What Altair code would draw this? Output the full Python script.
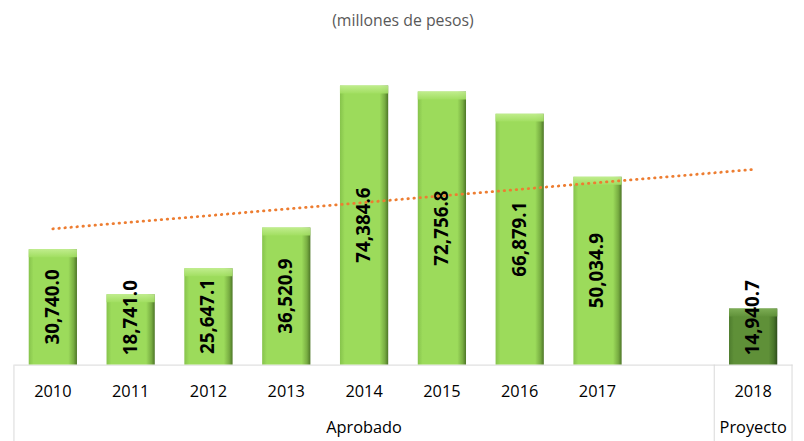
import altair as alt
import pandas as pd

# ---- data ----
anios = ["2010", "2011", "2012", "2013", "2014", "2015", "2016", "2017", "2018"]
valores = [30740.0, 18741.0, 25647.1, 36520.9, 74384.6, 72756.8, 66879.1, 50034.9, 14940.7]
grupos = ["Aprobado"] * 8 + ["Proyecto"]
orden_grupos = ["Aprobado", "Proyecto"]
titulo = "(millones de pesos)"

# an empty slot separates the two groups on the category axis
ESPACIO = " "
dominio = anios[:8] + [ESPACIO] + anios[8:]

df = pd.DataFrame({"anio": anios, "valor": valores, "grupo": grupos})
df["idx"] = [dominio.index(a) for a in anios]

# group spans in category-index units (for the table-like axis)
inicios = {g: df.loc[df.grupo == g, "idx"].min() - 0.5 for g in orden_grupos}
fines = {}
for i, g in enumerate(orden_grupos):
    if i + 1 < len(orden_grupos):
        fines[g] = inicios[orden_grupos[i + 1]]
    else:
        fines[g] = df.loc[df.grupo == g, "idx"].max() + 0.5
df_g = pd.DataFrame({
    "grupo": orden_grupos,
    "centro": [(inicios[g] + fines[g]) / 2 for g in orden_grupos],
})
limites = sorted(set(list(inicios.values()) + list(fines.values())))
df_lim = pd.DataFrame({"lim": limites})

W, H = 786, 326
FONT = "Open Sans"

xscale = alt.Scale(domain=dominio, paddingInner=0.38, paddingOuter=0.19)
x_axis = alt.X(
    "anio:N", scale=xscale, sort=dominio,
    axis=alt.Axis(title=None, labelAngle=0, ticks=False, tickSize=0, labelPadding=27,
                  labelBaseline="middle", labelFont=FONT, labelFontSize=16.5,
                  labelColor="#000000", domainColor="#d9d9d9", domainWidth=1,
                  grid=False),
)
x_noaxis = alt.X("anio:N", scale=xscale, sort=dominio, axis=None)
xlin = alt.Scale(domain=[min(limites), max(limites)], nice=False, zero=False)
yscale = alt.Scale(domain=[0, 86000], nice=False)

base = alt.Chart(df)


def hgrad(c_izq, c_med, c_der, c_borde):
    return alt.LinearGradient(
        gradient="linear", x1=0, x2=1, y1=0, y2=0,
        stops=[
            alt.GradientStop(color=c_izq, offset=0),
            alt.GradientStop(color=c_med, offset=0.1),
            alt.GradientStop(color=c_med, offset=0.82),
            alt.GradientStop(color=c_der, offset=0.93),
            alt.GradientStop(color=c_borde, offset=1),
        ],
    )


def bgrad(c_izq, c_top, c_bot, c_der):
    return alt.LinearGradient(
        gradient="linear", x1=0, x2=0, y1=0, y2=1,
        stops=[alt.GradientStop(color=c_top, offset=0),
               alt.GradientStop(color=c_bot, offset=1)],
    )


estilos = {
    "Aprobado": (hgrad("#86c34c", "#9cdb5b", "#78ad42", "#4d7627"),
                 bgrad(None, "#c4ef92", "#a2df62", None)),
    "Proyecto": (hgrad("#4e7c2e", "#5f9038", "#48742a", "#2e4c1c"),
                 bgrad(None, "#80b058", "#62933b", None)),
}

capas = []
primera = True
for g in orden_grupos:
    cuerpo, bisel = estilos[g]
    sub = base.transform_filter(alt.datum.grupo == g)
    capas.append(
        sub.mark_bar(color=cuerpo).encode(
            x=x_axis if primera else x_noaxis,
            y=alt.Y("valor:Q", scale=yscale, axis=None),
        )
    )
    primera = False
    capas.append(
        sub.mark_bar(color=bisel, y2Offset=8, opacity=0.9).encode(
            x=x_noaxis,
            y=alt.Y("valor:Q", scale=yscale, axis=None),
            y2=alt.Y2("valor"),
        )
    )

etiquetas = base.transform_calculate(
    pos="max(datum.valor / 2, 12500)"
).mark_text(
    angle=270, font=FONT, fontSize=19, fontWeight="bold", color="#000000",
    align="center", baseline="middle",
).encode(
    x=x_noaxis,
    y=alt.Y("pos:Q", scale=yscale, axis=None),
    text=alt.Text("valor:Q", format=",.1f"),
)

tendencia = base.transform_regression(
    "idx", "valor", extent=[int(df.idx.min()), int(df.idx.max())]
).mark_line(
    color="#ed7d31", strokeWidth=2.8, strokeDash=[0.5, 5.6], strokeCap="round",
).encode(
    x=alt.X("idx:Q", scale=xlin, axis=None),
    y=alt.Y("valor:Q", scale=yscale, axis=None),
)

reglas = alt.Chart(df_lim).mark_rule(color="#d9d9d9", strokeWidth=1).encode(
    x=alt.X("lim:Q", scale=xlin, axis=None),
    y=alt.value(H),
    y2=alt.value(H + 90),
)

textos_grupo = alt.Chart(df_g).mark_text(
    font=FONT, fontSize=16.5, color="#000000", align="center", baseline="middle",
).encode(
    x=alt.X("centro:Q", scale=xlin, axis=None),
    y=alt.value(H + 64),
    text="grupo:N",
)

chart = alt.layer(
    *capas, etiquetas, tendencia, reglas, textos_grupo
).resolve_scale(
    x="independent"
).properties(
    width=W, height=H,
    title=alt.TitleParams(text=titulo, font=FONT, fontSize=16, fontWeight="normal",
                          color="#595959", offset=13, anchor="middle"),
    autosize=alt.AutoSizeParams(type="none"),
    padding={"left": 6, "top": 32, "right": 4, "bottom": 80},
).configure_view(stroke=None)

chart.save("out.html", embed_options={"renderer": "svg", "actions": False})
